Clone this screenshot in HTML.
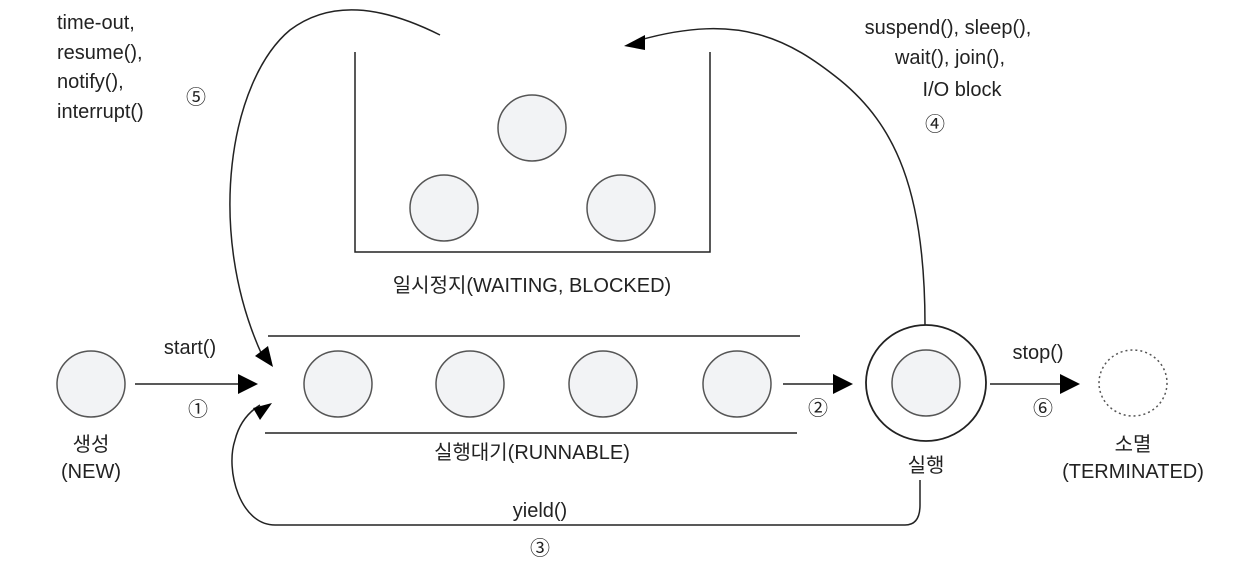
<!DOCTYPE html>
<html><head><meta charset="utf-8"><style>
body{margin:0;background:#fff}
svg text{font-family:"Liberation Sans","Noto Sans CJK KR",sans-serif;font-size:20px;fill:#222}
</style></head><body>
<svg width="1233" height="565" viewBox="0 0 1233 565" xmlns="http://www.w3.org/2000/svg">
<g fill="#f2f3f5" stroke="#555" stroke-width="1.5">
<ellipse cx="91" cy="384" rx="34" ry="33"/>
<ellipse cx="338" cy="384" rx="34" ry="33"/>
<ellipse cx="470" cy="384" rx="34" ry="33"/>
<ellipse cx="603" cy="384" rx="34" ry="33"/>
<ellipse cx="737" cy="384" rx="34" ry="33"/>
<ellipse cx="532" cy="128" rx="34" ry="33"/>
<ellipse cx="444" cy="208" rx="34" ry="33"/>
<ellipse cx="621" cy="208" rx="34" ry="33"/>
<ellipse cx="926" cy="383" rx="34" ry="33"/>
</g>
<ellipse cx="926" cy="383" rx="60" ry="58" fill="none" stroke="#222" stroke-width="1.8"/>
<ellipse cx="1133" cy="383" rx="34" ry="33" fill="none" stroke="#555" stroke-width="1.5" stroke-dasharray="2,3"/>
<g stroke="#222" stroke-width="1.5" fill="none">
<path d="M355,52 V252 H710 V52"/>
<line x1="268" y1="336" x2="800" y2="336"/>
<line x1="265" y1="433" x2="797" y2="433"/>
<line x1="135" y1="384" x2="240" y2="384"/>
<line x1="783" y1="384" x2="835" y2="384"/>
<line x1="990" y1="384" x2="1062" y2="384"/>
<path d="M925,325 C925,190 895,125 840,80 C790,40 740,12 640,40"/>
<path d="M440,35 C380,5 330,0 290,30 C230,80 205,230 262,355"/>
<path d="M905,525 Q920,525 920,505 V480"/>
<path d="M905,525 H275 C240,525 225,470 235,440 C240,420 252,410 260,405"/>
</g>
<g fill="#000">
<path d="M258,384 L238,374 L238,394 z"/>
<path d="M853,384 L833,374 L833,394 z"/>
<path d="M1080,384 L1060,374 L1060,394 z"/>
<path d="M624,46 L645,35 L645,50 z"/>
<path d="M273,367 L255,356 L268,346 z"/>
<path d="M272,403 L260,420 L253,408 z"/>
</g>
<text x="57" y="29">time-out,</text>
<text x="57" y="59">resume(),</text>
<text x="57" y="88">notify(),</text>
<text x="57" y="118">interrupt()</text>
<text x="196" y="104" text-anchor="middle" font-size="18">⑤</text>
<text x="948" y="34" text-anchor="middle">suspend(), sleep(),</text>
<text x="950" y="64" text-anchor="middle">wait(), join(),</text>
<text x="962" y="96" text-anchor="middle">I/O block</text>
<text x="935" y="131" text-anchor="middle" font-size="18">④</text>
<text x="532" y="292" text-anchor="middle">일시정지(WAITING, BLOCKED)</text>
<text x="190" y="354" text-anchor="middle">start()</text>
<text x="198" y="416" text-anchor="middle" font-size="18">①</text>
<text x="818" y="415" text-anchor="middle" font-size="18">②</text>
<text x="1038" y="359" text-anchor="middle">stop()</text>
<text x="1043" y="415" text-anchor="middle" font-size="18">⑥</text>
<text x="91" y="451" text-anchor="middle">생성</text>
<text x="91" y="478" text-anchor="middle">(NEW)</text>
<text x="532" y="459" text-anchor="middle">실행대기(RUNNABLE)</text>
<text x="926" y="472" text-anchor="middle">실행</text>
<text x="1133" y="451" text-anchor="middle">소멸</text>
<text x="1133" y="478" text-anchor="middle">(TERMINATED)</text>
<text x="540" y="517" text-anchor="middle">yield()</text>
<text x="540" y="555" text-anchor="middle" font-size="18">③</text>
</svg>
</body></html>
